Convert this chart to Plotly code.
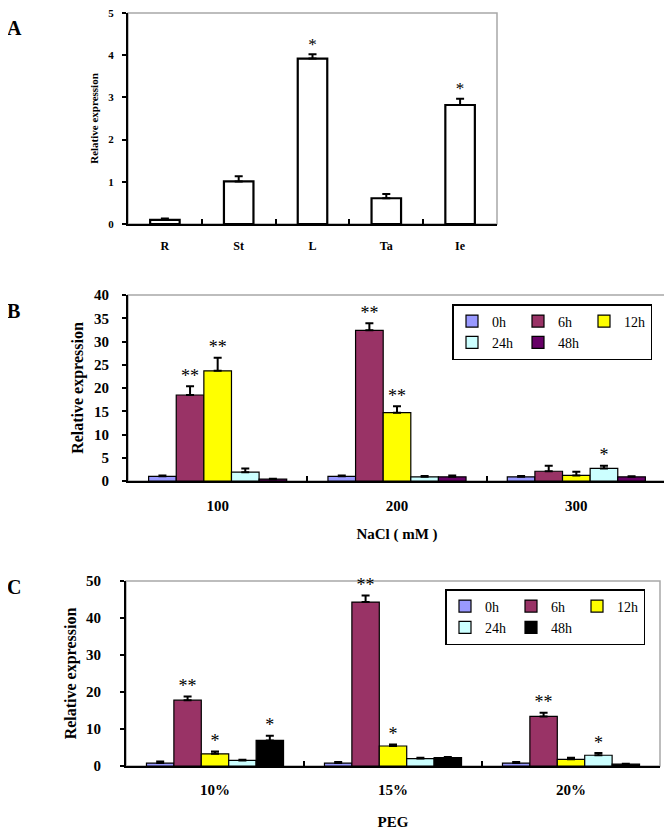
import plotly.graph_objects as go

# ---------------- data ----------------
tissues = ["R", "St", "L", "Ta", "Ie"]
tissue_expr = [0.10, 1.01, 3.92, 0.61, 2.82]
tissue_err = [0.03, 0.12, 0.10, 0.10, 0.15]
tissue_sig = ["", "", "*", "", "*"]

times = ["0h", "6h", "12h", "24h", "48h"]
# legend column each time point sits in (legend shows 3 columns x 2 rows)
legend_cols = {"0h": "c1", "6h": "c2", "12h": "c3", "24h": "c1", "48h": "c2"}

nacl_cats = ["100", "200", "300"]
nacl_expr = {
    "0h": [1.0, 1.0, 0.9],
    "6h": [18.5, 32.4, 2.1],
    "12h": [23.7, 14.7, 1.2],
    "24h": [1.9, 0.9, 2.7],
    "48h": [0.4, 0.9, 0.9],
}
nacl_err = {
    "0h": [0.2, 0.2, 0.2],
    "6h": [1.9, 1.5, 1.2],
    "12h": [2.8, 1.4, 0.8],
    "24h": [0.8, 0.2, 0.6],
    "48h": [0.1, 0.3, 0.1],
}
nacl_sig = {
    "0h": ["", "", ""],
    "6h": ["**", "**", ""],
    "12h": ["**", "**", ""],
    "24h": ["", "", "*"],
    "48h": ["", "", ""],
}

peg_cats = ["10%", "15%", "20%"]
peg_expr = {
    "0h": [0.8, 0.8, 0.8],
    "6h": [17.8, 44.3, 13.4],
    "12h": [3.3, 5.4, 1.8],
    "24h": [1.5, 2.0, 2.9],
    "48h": [6.9, 2.3, 0.5],
}
peg_err = {
    "0h": [0.4, 0.3, 0.3],
    "6h": [1.0, 1.8, 1.0],
    "12h": [0.6, 0.4, 0.4],
    "24h": [0.2, 0.2, 0.6],
    "48h": [1.3, 0.1, 0.1],
}
peg_sig = {
    "0h": ["", "", ""],
    "6h": ["**", "**", "**"],
    "12h": ["*", "*", ""],
    "24h": ["", "", "*"],
    "48h": ["*", "", ""],
}

colors_b = {"0h": "#9999FF", "6h": "#993366", "12h": "#FFFF00", "24h": "#CCFFFF", "48h": "#660066"}
colors_c = {"0h": "#9999FF", "6h": "#993366", "12h": "#FFFF00", "24h": "#CCFFFF", "48h": "#000000"}

SERIF = "Liberation Serif, Times New Roman, serif"
W, H = 672, 835
OFF = 8  # page body margin shifts the figure by this many pixels

fig = go.Figure()

# ---------------- panel A ----------------
fig.add_trace(go.Bar(
    x=tissues, y=tissue_expr, width=0.4,
    marker=dict(color="white", line=dict(color="black", width=2.2)),
    error_y=dict(type="data", array=tissue_err, symmetric=False,
                 arrayminus=[0] * len(tissue_err), color="black", thickness=2, width=4),
    xaxis="x", yaxis="y", showlegend=False,
))
fig.add_trace(go.Scatter(
    x=tissues, y=[v + e for v, e in zip(tissue_expr, tissue_err)], text=tissue_sig,
    mode="text", textposition="top center", textfont=dict(family=SERIF, size=17, color="black"),
    xaxis="x", yaxis="y", showlegend=False, hoverinfo="skip", cliponaxis=False,
))

# ---------------- panels B and C ----------------
def add_group(cats, expr, err, sig, colors, xa, ya, legend, grp):
    for t in times:
        fig.add_trace(go.Bar(
            x=cats, y=expr[t], name=t, offsetgroup=grp + t, alignmentgroup=grp,
            legendgroup=grp + legend_cols[t],
            marker=dict(color=colors[t], line=dict(color="black", width=1.2)),
            error_y=dict(type="data", array=err[t], symmetric=False,
                         arrayminus=[0] * len(err[t]), color="black", thickness=2, width=4),
            xaxis=xa, yaxis=ya, legend=legend,
        ))
    for t in times:
        fig.add_trace(go.Scatter(
            x=cats, y=[v + e for v, e in zip(expr[t], err[t])], text=sig[t],
            offsetgroup=grp + t, alignmentgroup=grp,
            mode="text", textposition="top center",
            textfont=dict(family=SERIF, size=18, color="black"),
            xaxis=xa, yaxis=ya, showlegend=False, hoverinfo="skip", cliponaxis=False,
        ))

add_group(nacl_cats, nacl_expr, nacl_err, nacl_sig, colors_b, "x2", "y2", "legend", "b")
add_group(peg_cats, peg_expr, peg_err, peg_sig, colors_c, "x3", "y3", "legend2", "c")

def px_x(p):
    return (p - OFF) / W

def px_y(p):
    return 1 - (p - OFF) / H

xbase = dict(showline=True, linecolor="black", linewidth=2, showgrid=False, zeroline=False,
             ticks="inside", tickson="boundaries", ticklen=5, tickcolor="black", tickwidth=2,
             fixedrange=True, automargin=False, ticklabeloverflow="allow")
ybase = dict(showline=True, linecolor="black", linewidth=2, showgrid=False, zeroline=False,
             ticks="outside", ticklen=4, tickcolor="black", tickwidth=2, fixedrange=True,
             automargin=False, ticklabeloverflow="allow")

legend_style = dict(xanchor="right", yanchor="top", orientation="h",
                    bgcolor="white", bordercolor="black", borderwidth=1.5,
                    font=dict(family=SERIF, size=14), itemwidth=30, tracegroupgap=0,
                    traceorder="grouped")

fig.update_layout(
    width=W, height=H, margin=dict(l=0, r=0, t=0, b=0, autoexpand=False),
    paper_bgcolor="white", plot_bgcolor="white",
    barmode="group", bargap=0.23, bargroupgap=0,
    scattermode="group", scattergap=0.23,
    font=dict(family=SERIF, color="black"),
    xaxis=dict(xbase, domain=[px_x(128), px_x(497)], anchor="y",
               tickfont=dict(family=SERIF, size=12, weight="bold"), ticklabelstandoff=10),
    yaxis=dict(ybase, domain=[px_y(224), px_y(13)], anchor="x", range=[0, 5], dtick=1,
               tickfont=dict(family=SERIF, size=11, weight="bold"), ticklabelstandoff=6,
               title=dict(text="Relative expression", font=dict(family=SERIF, size=11, weight="bold"),
                          standoff=7)),
    xaxis2=dict(xbase, domain=[px_x(128), px_x(666)], anchor="y2",
                tickfont=dict(family=SERIF, size=15, weight="bold"), ticklabelstandoff=10,
                title=dict(text="NaCl ( mM )", font=dict(family=SERIF, size=15, weight="bold"),
                           standoff=15)),
    yaxis2=dict(ybase, domain=[px_y(481), px_y(295)], anchor="x2", range=[0, 40], dtick=5,
                tickfont=dict(family=SERIF, size=15, weight="bold"), ticklabelstandoff=10,
                title=dict(text="Relative expression", font=dict(family=SERIF, size=16, weight="bold"),
                           standoff=6)),
    xaxis3=dict(xbase, domain=[px_x(126), px_x(660)], anchor="y3",
                tickfont=dict(family=SERIF, size=15, weight="bold"), ticklabelstandoff=9,
                title=dict(text="PEG", font=dict(family=SERIF, size=15, weight="bold"), standoff=19)),
    yaxis3=dict(ybase, domain=[px_y(766), px_y(581)], anchor="x3", range=[0, 50], dtick=10,
                tickfont=dict(family=SERIF, size=15, weight="bold"), ticklabelstandoff=16,
                title=dict(text="Relative expression", font=dict(family=SERIF, size=16, weight="bold"),
                           standoff=5)),
    legend=dict(legend_style, x=px_x(652), y=px_y(304)),
    legend2=dict(legend_style, x=px_x(645), y=px_y(589)),
)

# grey frame (top/right) behind black axes
for xr, yr in (("x", "y"), ("x2", "y2"), ("x3", "y3")):
    fig.add_shape(type="rect", xref=xr + " domain", yref=yr + " domain", x0=0, x1=1, y0=0, y1=1,
                  line=dict(color="#a8a8a8", width=1.5), layer="below")

for label, yp in (("A", 28), ("B", 311), ("C", 587)):
    fig.add_annotation(text=label, xref="paper", yref="paper", x=px_x(5), y=px_y(yp),
                       xanchor="left", yanchor="middle", showarrow=False,
                       font=dict(family=SERIF, size=20, weight="bold", color="black"))

fig.write_html("out.html")
